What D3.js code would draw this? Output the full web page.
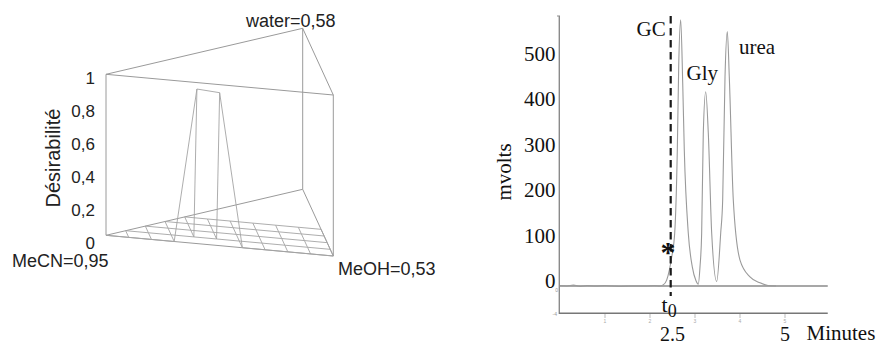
<!DOCTYPE html>
<html><head><meta charset="utf-8">
<script src="https://cdn.jsdelivr.net/npm/d3@7"></script>
<style>body{margin:0;background:#fff}svg{display:block}</style>
</head><body><svg id="c" width="877" height="345"></svg>
<script>
// ---------------- LEFT PANEL DATA (ternary desirability surface) ----------------
const componentLabels = ["MeCN=0,95", "MeOH=0,53", "water=0,58"];
const desirabilityTicks = [0, 0.2, 0.4, 0.6, 0.8, 1];
const desirabilityTickLabels = ["0", "0,2", "0,4", "0,6", "0,8", "1"];
const desirabilityTitle = "Désirabilité";
// grid levels (fractions of pseudo-components)
const meCNLevels = [1, 0.9, 0.8, 0.7, 0.6, 0.5, 0.4, 0.3, 0.2, 0.1, 0];
const waterLevels = [0, 0.1, 0.2, 0.3, 0.4];
// desirability at each node: rows = water level, columns = MeCN level
const desirabilityGrid = [
  [0, 0, 0, 0, 0.96, 0.95, 0, 0, 0, 0, 0],
  [0, 0, 0, 0, 0, 0, 0, 0, 0, 0, 0],
  [0, 0, 0, 0, 0, 0, 0, 0, 0, 0, 0],
  [0, 0, 0, 0, 0, 0, 0, 0, 0, 0, 0],
  [0, 0, 0, 0, 0, 0, 0, 0, 0, 0, 0]
];

// ---------------- RIGHT PANEL DATA (chromatogram) ----------------
const retentionTime = [0, 0.15, 0.3, 0.45, 0.6, 0.8, 1.0, 1.3, 1.6, 1.9, 2.1, 2.22, 2.3, 2.37, 2.43, 2.48, 2.55, 2.607, 2.638, 2.682, 2.727, 2.762, 2.851, 2.94, 3.02, 3.073, 3.111, 3.148, 3.184, 3.238, 3.296, 3.371, 3.482, 3.571, 3.615, 3.667, 3.718, 3.762, 3.851, 4.0, 4.222, 4.444, 4.622, 4.8];
const signalMV    = [1, 0, 2, -1, 1, 0, 1, -1, 0, 0, 1, 0, 3, 13, 35, 62, 118, 299, 483, 585, 446, 299, 116, 42, 12, 4, 42, 116, 335, 427, 335, 116, 10, 116, 189, 460, 559, 460, 189, 57, 20, 7, 1, 0];
const yTickValues = [0, 100, 200, 300, 400, 500];
const xMajorLabels = [2.5, 5];
const xMinorTicks = [1, 2, 3, 4, 5];
const peakNames = ["GC", "Gly", "urea"];
const yTitle = "mvolts", xTitle = "Minutes";

// ---------------- DRAW ----------------
const svg = d3.select("#c");
const sans = "'Liberation Sans', Arial, sans-serif";
const serif = "'Liberation Serif', 'Times New Roman', serif";

// ----- left: oblique projection of the ternary prism -----
const P_MeCN = [106, 235.3], P_MeOH = [333.3, 256], P_Water = [302.7, 189.3];
const zScale = d3.scaleLinear().domain([0, 1]).range([0, 161]);
function project(a, c, z) {
  const b = 1 - a - c;
  return [a * P_MeCN[0] + b * P_MeOH[0] + c * P_Water[0],
          a * P_MeCN[1] + b * P_MeOH[1] + c * P_Water[1] - zScale(z)];
}
const L = svg.append("g");
const line = d3.line();
const frameColor = "#9a9a9a", meshColor = "#a4a4a4";
const corners = [[1, 0], [0, 0], [0, 1]]; // (MeCN, water) of MeCN, MeOH, water vertices
[0, 1].forEach(z => {
  L.append("path").attr("d", line(corners.map(k => project(k[0], k[1], z))) + "Z")
    .attr("fill", "none").attr("stroke", frameColor).attr("stroke-width", 1);
});
corners.forEach(k => {
  L.append("path").attr("d", line([project(k[0], k[1], 0), project(k[0], k[1], 1)]))
    .attr("fill", "none").attr("stroke", frameColor).attr("stroke-width", 1);
});
waterLevels.forEach((c, ci) => {
  const pts = [];
  meCNLevels.forEach((a, ai) => { if (1 - a - c > -1e-9) pts.push(project(a, c, desirabilityGrid[ci][ai])); });
  if (pts.length > 1) L.append("path").attr("d", line(pts)).attr("fill", "none").attr("stroke", meshColor).attr("stroke-width", 0.9);
});
meCNLevels.forEach((a, ai) => {
  const pts = [];
  waterLevels.forEach((c, ci) => { if (1 - a - c > -1e-9) pts.push(project(a, c, desirabilityGrid[ci][ai])); });
  if (pts.length > 1) L.append("path").attr("d", line(pts)).attr("fill", "none").attr("stroke", meshColor).attr("stroke-width", 0.9);
});
const tickScale = d3.scaleLinear().domain([0, 1]).range([242.5, 77.5]);
L.selectAll("text.tk").data(desirabilityTicks).join("text")
  .attr("x", 95).attr("y", d => tickScale(d) + 6.2)
  .attr("text-anchor", "end").attr("font-family", sans).attr("font-size", 17).attr("fill", "#222")
  .text((d, i) => desirabilityTickLabels[i]);
L.append("text").attr("transform", "translate(60,158) rotate(-90)")
  .attr("text-anchor", "middle").attr("font-family", sans).attr("font-size", 20).attr("fill", "#222")
  .text(desirabilityTitle);
L.append("text").attr("x", 12).attr("y", 267).attr("font-family", sans).attr("font-size", 18).attr("fill", "#222").text(componentLabels[0]);
L.append("text").attr("x", 338).attr("y", 275).attr("font-family", sans).attr("font-size", 18).attr("fill", "#222").text(componentLabels[1]);
L.append("text").attr("x", 246).attr("y", 26.5).attr("font-family", sans).attr("font-size", 18).attr("fill", "#222").text(componentLabels[2]);

// ----- right: chromatogram -----
const x = d3.scaleLinear().domain([0, 5.95]).range([560, 827.75]);
const y = d3.scaleLinear().domain([0, 500]).range([286, 58.5]);
const R = svg.append("g");
const axisColor = "#8a8a8a";
R.append("line").attr("x1", 559.3).attr("x2", 559.3).attr("y1", 16).attr("y2", 314).attr("stroke", axisColor).attr("stroke-width", 1.4);
R.append("line").attr("x1", 557).attr("x2", 560).attr("y1", 16).attr("y2", 16).attr("stroke", axisColor);
R.append("line").attr("x1", 559).attr("x2", x.range()[1]).attr("y1", y(0)).attr("y2", y(0)).attr("stroke", axisColor).attr("stroke-width", 1.4);
R.append("line").attr("x1", 559).attr("x2", x.range()[1]).attr("y1", 313.3).attr("y2", 313.3).attr("stroke", "#777").attr("stroke-width", 1.6);
R.selectAll("line.mt").data(xMinorTicks).join("line")
  .attr("x1", d => x(d)).attr("x2", d => x(d)).attr("y1", 314).attr("y2", 318)
  .attr("stroke", "#aaa").attr("stroke-width", 0.8);
R.selectAll("text.ml").data(xMinorTicks).join("text")
  .attr("x", d => x(d)).attr("y", 323).attr("text-anchor", "middle")
  .attr("font-family", sans).attr("font-size", 5).attr("fill", "#aaa").text(d => d);
R.append("text").attr("x", 557).attr("y", 316).attr("text-anchor", "end").attr("font-family", sans).attr("font-size", 5).attr("fill", "#999").text("-4");
R.append("text").attr("x", 558).attr("y", 292).attr("text-anchor", "end").attr("font-family", sans).attr("font-size", 5).attr("fill", "#999").text("0");
R.append("path").datum(retentionTime.map((t, i) => [t, signalMV[i]]))
  .attr("d", d3.line().x(d => x(d[0])).y(d => y(d[1])).curve(d3.curveMonotoneX))
  .attr("fill", "none").attr("stroke", "#9a9a9a").attr("stroke-width", 1.1);
R.selectAll("text.yt").data(yTickValues).join("text")
  .attr("x", 555.5).attr("y", d => y(d) + 2).attr("text-anchor", "end")
  .attr("font-family", serif).attr("font-size", 21).attr("fill", "#111").text(d => d);
R.append("text").attr("transform", "translate(511,172) rotate(-90)").attr("text-anchor", "middle")
  .attr("font-family", serif).attr("font-size", 21).attr("fill", "#111").text(yTitle);
R.selectAll("text.xl").data(xMajorLabels).join("text")
  .attr("x", d => x(d)).attr("y", 340.5).attr("text-anchor", "middle")
  .attr("font-family", serif).attr("font-size", 20).attr("fill", "#111").text(d => d);
R.append("text").attr("x", 806.5).attr("y", 340).attr("font-family", serif).attr("font-size", 21).attr("fill", "#111").text(xTitle);
R.append("line").attr("x1", 670.7).attr("x2", 670.7).attr("y1", 16).attr("y2", 296)
  .attr("stroke", "#1a1a1a").attr("stroke-width", 2.2).attr("stroke-dasharray", "7.5,4.5");
R.append("text").attr("x", 668).attr("y", 262).attr("text-anchor", "middle")
  .attr("font-family", serif).attr("font-size", 30).attr("font-weight", "bold").attr("fill", "#111").text("*");
const t0 = R.append("text").attr("x", 661.5).attr("y", 312).attr("font-family", serif).attr("font-size", 22).attr("fill", "#111");
t0.append("tspan").text("t");
t0.append("tspan").attr("dy", 4.5).attr("font-size", 18).text("0");
const peakLabelPos = [[636.5, 36], [686.5, 80], [739, 53.5]];
R.selectAll("text.pk").data(peakNames).join("text")
  .attr("x", (d, i) => peakLabelPos[i][0]).attr("y", (d, i) => peakLabelPos[i][1])
  .attr("font-family", serif).attr("font-size", 21).attr("fill", "#111").text(d => d);
</script>
</body></html>
